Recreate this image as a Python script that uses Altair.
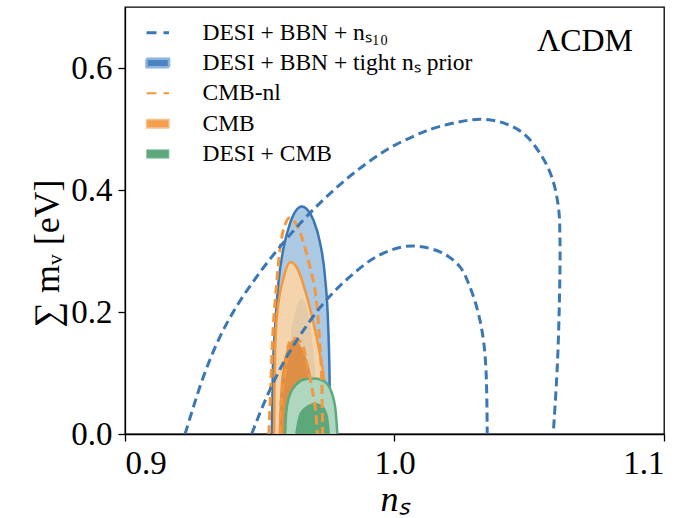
import altair as alt
import pandas as pd

FONT = "Liberation Serif"

# ---- contour data: (n_s, sum m_nu) ----
NS10_95_NS = [0.9223, 0.9291, 0.9353, 0.9414, 0.9489, 0.9575, 0.9662, 0.9748, 0.9847, 0.9971, 1.0095, 1.0144,
              1.0243, 1.0324, 1.0404, 1.0478, 1.0540, 1.0583, 1.0608, 1.0614, 1.0612, 1.0604, 1.0589]
NS10_95_M = [0.0, 0.094, 0.160, 0.209, 0.258, 0.307, 0.351, 0.389, 0.427, 0.466, 0.493, 0.501,
             0.512, 0.516, 0.510, 0.493, 0.460, 0.422, 0.373, 0.318, 0.220, 0.110, 0.0]
NS10_68_NS = [0.9470, 0.9526, 0.9587, 0.9662, 0.9748, 0.9835, 0.9934, 1.0033, 1.0101, 1.0181, 1.0243, 1.0280,
              1.0311, 1.0330, 1.0340, 1.0344]
NS10_68_M = [0.0, 0.061, 0.116, 0.170, 0.220, 0.258, 0.291, 0.307, 0.307, 0.296, 0.274, 0.241,
             0.198, 0.154, 0.100, 0.0]

TIGHT_95_NS = [0.9545, 0.9548, 0.9557, 0.9569, 0.9587, 0.9612, 0.9634, 0.9656, 0.9678, 0.9699, 0.9724, 0.9742, 0.9754, 0.9759, 0.9760]
TIGHT_95_M = [0.0, 0.094, 0.176, 0.247, 0.302, 0.345, 0.366, 0.373, 0.367, 0.351, 0.313, 0.258, 0.176, 0.094, 0.0]
TIGHT_68_NS = [0.9602, 0.9604, 0.9614, 0.9632, 0.9655, 0.9673, 0.9686, 0.9700, 0.9710, 0.9715]
TIGHT_68_M = [0.0, 0.080, 0.150, 0.200, 0.222, 0.210, 0.180, 0.130, 0.070, 0.0]

CMB_95_NS = [0.9553, 0.9555, 0.9560, 0.9571, 0.9586, 0.9614, 0.9642, 0.9668, 0.9697, 0.9720, 0.9742, 0.9750]
CMB_95_M = [0.0, 0.089, 0.170, 0.220, 0.252, 0.282, 0.269, 0.236, 0.187, 0.138, 0.072, 0.0]
CMB_68_NS = [0.9571, 0.9575, 0.9587, 0.9601, 0.9631, 0.9653, 0.9668, 0.9693, 0.9705, 0.9711]
CMB_68_M = [0.0, 0.059, 0.113, 0.138, 0.156, 0.143, 0.130, 0.086, 0.031, 0.0]

CMBNL_95_NS = [0.9534, 0.9542, 0.9550, 0.9563, 0.9575, 0.9590, 0.9608, 0.9624, 0.9649, 0.9668, 0.9686, 0.9702,
               0.9712, 0.9722, 0.9730, 0.9733]
CMBNL_95_M = [0.0, 0.093, 0.175, 0.248, 0.302, 0.338, 0.354, 0.351, 0.331, 0.305, 0.274, 0.244,
              0.211, 0.154, 0.089, 0.0]
CMBNL_68_NS = [0.9575, 0.9581, 0.9600, 0.9609, 0.9625, 0.9642, 0.9656, 0.9674, 0.9693, 0.9707, 0.9714]
CMBNL_68_M = [0.0, 0.061, 0.116, 0.149, 0.157, 0.154, 0.149, 0.116, 0.077, 0.039, 0.0]

DC_95_NS = [0.9594, 0.9598, 0.9612, 0.9640, 0.9672, 0.9705, 0.9740, 0.9765, 0.9781, 0.9788]
DC_95_M = [0.0, 0.035, 0.065, 0.083, 0.090, 0.091, 0.086, 0.070, 0.040, 0.0]
DC_68_NS = [0.9631, 0.9642, 0.9664, 0.9705, 0.9735, 0.9753, 0.9761]
DC_68_M = [0.0, 0.026, 0.043, 0.051, 0.046, 0.030, 0.0]

SERIES = ["DESI + BBN + nₛ₁₀", "DESI + BBN + tight nₛ prior", "CMB-nl", "CMB", "DESI + CMB"]
X_TICKS = [0.9, 1.0, 1.1]
Y_TICKS = [0.0, 0.2, 0.4, 0.6]
MODEL_LABEL = "ΛCDM"

BLUE = "#3a77b4"
ORANGE = "#f4983e"
GREEN = "#58ab7b"


def frame(ns, m):
    return pd.DataFrame({"ns": ns, "m": m, "i": list(range(len(ns)))})


x_enc = alt.X("ns:Q", scale=alt.Scale(domain=[0.9, 1.1], nice=False, zero=False),
              axis=alt.Axis(values=X_TICKS, format=".1f", title="nₛ", titleFontStyle="italic"))
y_enc = alt.Y("m:Q", scale=alt.Scale(domain=[0.0, 0.7], nice=False),
              axis=alt.Axis(values=Y_TICKS, format=".1f", title="∑ mᵥ [eV]", titleY=246))


def fill(ns, m, color, opacity=1.0):
    return alt.Chart(frame(ns, m)).mark_area(
        interpolate="monotone", orient="vertical", color=color, opacity=opacity, clip=True
    ).encode(x=x_enc, y=y_enc)


def outline(ns, m, color, dash=None, interp="monotone", width=2.5):
    kw = dict(interpolate=interp, color=color, strokeWidth=width, clip=True)
    if dash:
        kw["strokeDash"] = dash
    return alt.Chart(frame(ns, m)).mark_line(**kw).encode(
        x=x_enc, y=y_enc, order=alt.Order("i:Q"))


layers = [
    fill(TIGHT_95_NS, TIGHT_95_M, "#acc9e4"),
    fill(TIGHT_68_NS, TIGHT_68_M, "#4a84c1"),
    outline(TIGHT_95_NS, TIGHT_95_M, BLUE),
    fill(CMB_95_NS, CMB_95_M, "#ffd6a2", 0.85),
    fill(CMB_68_NS, CMB_68_M, "#df8f45"),
    outline(CMB_95_NS, CMB_95_M, ORANGE),
    fill(DC_95_NS, DC_95_M, "#afd6be"),
    fill(DC_68_NS, DC_68_M, "#5ca87b"),
    outline(DC_95_NS, DC_95_M, GREEN),
    outline(CMBNL_95_NS, CMBNL_95_M, ORANGE, [9, 5], "catmull-rom", 3),
    outline(CMBNL_68_NS, CMBNL_68_M, ORANGE, [9, 5], "catmull-rom", 3),
    outline(NS10_95_NS, NS10_95_M, BLUE, [9, 5], "catmull-rom", 3),
    outline(NS10_68_NS, NS10_68_M, BLUE, [9, 5], "catmull-rom", 3),
]

# legend (native Vega-Lite legend driven by scales)
RECT = "M-2.25,-0.85H2.25V0.85H-2.25Z"
DASH = "M-2.25,0H2.25"
leg_df = pd.DataFrame({"series": SERIES, "show": [0] * len(SERIES)})
legend = alt.Legend(title=None, orient="none", legendX=21, legendY=14, labelFont=FONT,
                    labelFontSize=23.5, labelColor="black", symbolSize=100, labelOffset=33,
                    labelLimit=500, rowPadding=5.3, padding=0)
leg = alt.Chart(leg_df).mark_point(opacity=1).encode(
    fill=alt.Fill("series:N", scale=alt.Scale(domain=SERIES, range=["transparent", "#4a84c1", "transparent", "#f4a04e", "#5ca87e"]), legend=legend),
    stroke=alt.Stroke("series:N", scale=alt.Scale(domain=SERIES, range=[BLUE, "#8db4dc", ORANGE, "#f8c08a", "#92c8a8"]), legend=legend),
    shape=alt.Shape("series:N", scale=alt.Scale(domain=SERIES, range=[DASH, RECT, DASH, RECT, RECT]), legend=legend),
    strokeDash=alt.StrokeDash("series:N", scale=alt.Scale(domain=SERIES, range=[[10, 7], [1, 0], [10, 7], [1, 0], [1, 0]]), legend=legend),
    strokeWidth=alt.StrokeWidth("series:N", scale=alt.Scale(domain=SERIES, range=[3, 1, 3, 1, 1]), legend=legend),
).transform_filter(alt.datum.show > 0)

label = alt.Chart(pd.DataFrame({"t": [MODEL_LABEL]})).mark_text(
    font=FONT, fontSize=32, color="black", align="center", baseline="middle"
).encode(text="t:N", x=alt.value(460), y=alt.value(34))

chart = alt.layer(*layers, leg, label).properties(
    width=539, height=427,
    autosize=alt.AutoSizeParams(type="none"),
    padding={"left": 125, "top": 7, "right": 18, "bottom": 84},
    background="white",
).configure_view(stroke="black", strokeWidth=1.3).configure_axis(
    grid=False, domainColor="black", domainWidth=1.3, tickColor="black", tickWidth=1.3, tickSize=7,
    labelColor="black", labelFont=FONT, labelFontSize=33, labelPadding=6,
    titleColor="black", titleFont=FONT, titleFontSize=36, titleFontWeight="normal",
).configure_axisX(titlePadding=2).configure_axisY(titlePadding=4, labelFlush=False)

chart.save("out.html", embed_options={"renderer": "svg", "actions": False})
